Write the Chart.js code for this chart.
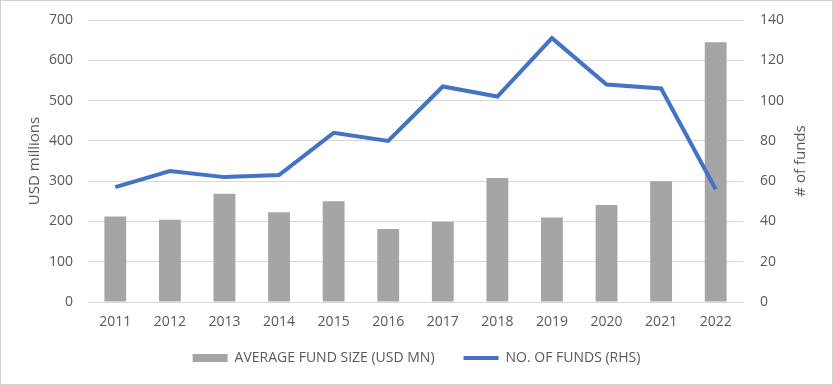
<!DOCTYPE html>
<html>
<head>
<meta charset="utf-8">
<script src="https://cdn.jsdelivr.net/npm/chart.js@4/dist/chart.umd.min.js"></script>
<style>
  html, body { margin: 0; padding: 0; background: #fff; }
  #wrap { width: 833px; height: 385px; }
</style>
</head>
<body>
<div id="wrap"><canvas id="fundChart" width="833" height="385"></canvas></div>
<script>
// chart data
var years = ['2011', '2012', '2013', '2014', '2015', '2016', '2017', '2018', '2019', '2020', '2021', '2022'];
var avgFundSize = [212, 204, 269, 223, 250, 181, 199, 308, 210, 241, 300, 645];
var numFunds = [57, 65, 62, 63, 84, 80, 107, 102, 131, 108, 106, 56];
var rightTitle = '# of funds';

var textColor = '#595959';
var gridColor = '#d9d9d9';
var fontFamily = '"Open Sans", sans-serif';

// light frame round the whole picture
var framePlugin = {
    id: 'frame',
    beforeDraw: function(chart) {
        var ctx = chart.ctx;
        ctx.save();
        ctx.fillStyle = '#ffffff';
        ctx.fillRect(0, 0, chart.width, chart.height);
        ctx.strokeStyle = '#d0d0d0';
        ctx.lineWidth = 1;
        ctx.strokeRect(0.5, 0.5, chart.width - 1, chart.height - 1);
        ctx.restore();
    }
};

// right axis title reads bottom-to-top, like the left one
var rightTitlePlugin = {
    id: 'rightTitle',
    afterDraw: function(chart) {
        var scale = chart.scales.yRight;
        var ctx = chart.ctx;
        ctx.save();
        ctx.translate(scale.right - 32, (scale.top + scale.bottom) / 2);
        ctx.rotate(-Math.PI / 2);
        ctx.fillStyle = textColor;
        ctx.font = '15px ' + fontFamily;
        ctx.textAlign = 'center';
        ctx.textBaseline = 'middle';
        ctx.fillText(rightTitle, 0, 0);
        ctx.restore();
    }
};

// wide item gap makes the legend box tall, pull it up a bit
var legendShiftPlugin = {
    id: 'legendShift',
    afterLayout: function(chart) {
        chart.legend.top -= 9;
        chart.legend.bottom -= 9;
    }
};

// fixed axis sizes so the plot area sits where the original has it
function fixY(width) {
    return function(scale) {
        scale.width = width;
        scale.paddingTop = 0;
        scale.paddingBottom = 0;
    };
}

var ctx = document.getElementById('fundChart').getContext('2d');
var fundChart = new Chart(ctx, {
    type: 'bar',
    data: {
        labels: years,
        datasets: [{
            type: 'line',
            label: 'NO. OF FUNDS (RHS)',
            data: numFunds,
            yAxisID: 'yRight',
            borderColor: '#4472c4',
            backgroundColor: '#4472c4',
            borderWidth: 4,
            pointRadius: 0,
            pointStyle: 'line',
            tension: 0,
            order: 1
        }, {
            label: 'AVERAGE FUND SIZE (USD MN)',
            data: avgFundSize,
            yAxisID: 'yLeft',
            backgroundColor: '#a5a5a5',
            borderWidth: 0,
            pointStyle: 'rect',
            barPercentage: 0.4,
            categoryPercentage: 1.0,
            order: 2
        }]
    },
    options: {
        responsive: false,
        animation: false,
        layout: { padding: { top: 20, left: 0, right: 0, bottom: 1 } },
        plugins: {
            legend: {
                position: 'bottom',
                reverse: true,
                labels: {
                    usePointStyle: true,
                    pointStyleWidth: 35,
                    boxHeight: 8,
                    padding: 29,
                    color: textColor,
                    font: { family: fontFamily, size: 14 }
                }
            },
            tooltip: { enabled: false }
        },
        scales: {
            x: {
                grid: { display: false, drawTicks: false },
                border: { display: false },
                ticks: { color: textColor, padding: 12, font: { family: fontFamily, size: 14 } },
                afterFit: function(scale) { scale.height = 29; }
            },
            yLeft: {
                position: 'left',
                min: 0,
                max: 700,
                ticks: { stepSize: 100, color: textColor, padding: 15, font: { family: fontFamily, size: 14 } },
                grid: { color: gridColor, drawTicks: false },
                border: { display: false },
                title: {
                    display: true,
                    text: 'USD millions',
                    color: textColor,
                    font: { family: fontFamily, size: 15 },
                    padding: { top: 26, bottom: 0 }
                },
                afterFit: fixY(88)
            },
            yRight: {
                position: 'right',
                min: 0,
                max: 140,
                ticks: { stepSize: 20, color: textColor, padding: 17, font: { family: fontFamily, size: 14 } },
                grid: { display: false, drawTicks: false },
                border: { display: false },
                afterFit: fixY(90)
            }
        }
    },
    plugins: [framePlugin, rightTitlePlugin, legendShiftPlugin]
});
</script>
</body>
</html>
